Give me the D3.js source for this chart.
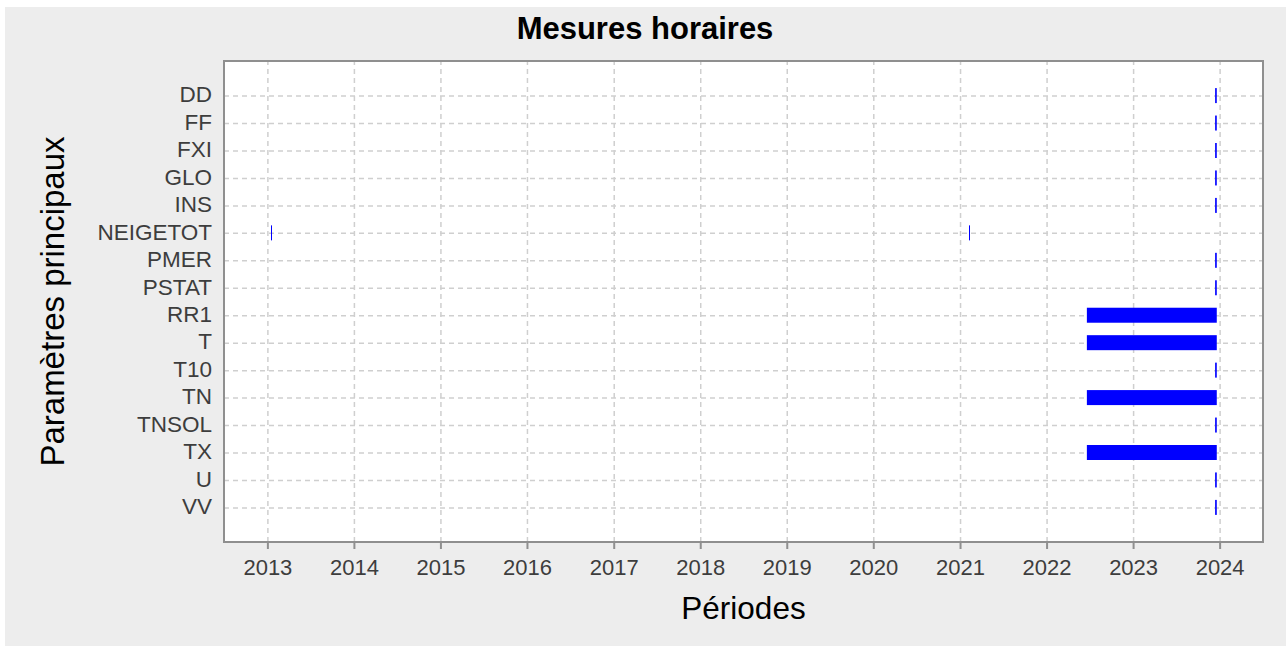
<!DOCTYPE html>
<html>
<head>
<meta charset="utf-8">
<script src="https://cdn.jsdelivr.net/npm/d3@7"></script>
<style>
  body { margin: 0; background: #fff; }
  text { font-family: "Liberation Sans", Arial, sans-serif; }
</style>
</head>
<body>
<script>
// parameters shown on the y axis, top to bottom
var params = ["DD", "FF", "FXI", "GLO", "INS", "NEIGETOT", "PMER", "PSTAT",
              "RR1", "T", "T10", "TN", "TNSOL", "TX", "U", "VV"];

// measurement periods (one entry per segment)
var periodParam = ["DD", "FF", "FXI", "GLO", "INS", "NEIGETOT", "NEIGETOT", "PMER", "PSTAT",
                   "RR1", "T", "T10", "TN", "TNSOL", "TX", "U", "VV"];
var periodStart = ["2023-12-13", "2023-12-13", "2023-12-13", "2023-12-13", "2023-12-13",
                   "2013-01-15", "2021-02-08", "2023-12-13", "2023-12-13",
                   "2022-06-20", "2022-06-20", "2023-12-13", "2022-06-20", "2023-12-13",
                   "2022-06-20", "2023-12-13", "2023-12-13"];
var periodEnd   = ["2023-12-20", "2023-12-20", "2023-12-20", "2023-12-20", "2023-12-20",
                   "2013-01-16", "2021-02-09", "2023-12-20", "2023-12-20",
                   "2023-12-20", "2023-12-20", "2023-12-20", "2023-12-20", "2023-12-20",
                   "2023-12-20", "2023-12-20", "2023-12-20"];

var yearTicks = [2013, 2014, 2015, 2016, 2017, 2018, 2019, 2020, 2021, 2022, 2023, 2024];

window.onload = function () {
  var w = 1286, h = 646;
  var left = 224, top = 61, right = 1263, bottom = 542;
  var parse = d3.timeParse("%Y-%m-%d");

  var svg = d3.select("body").append("svg")
    .attr("width", w)
    .attr("height", h);

  // grey figure background
  svg.append("rect")
    .attr("x", 5).attr("y", 7)
    .attr("width", w - 5).attr("height", h - 7)
    .attr("fill", "#ededed");

  // white plotting area
  svg.append("rect")
    .attr("x", left).attr("y", top)
    .attr("width", right - left).attr("height", bottom - top)
    .attr("fill", "#fff");

  var x = d3.scaleTime()
    .domain([new Date(2012, 6, 2), new Date(2024, 6, 2)])
    .range([left, right]);

  var y = d3.scalePoint()
    .domain(params)
    .range([top, bottom])
    .padding(1.26);

  var tickDates = yearTicks.map(function (d) { return new Date(d, 0, 1); });

  // vertical grid
  var xGrid = svg.append("g")
    .attr("transform", "translate(0," + bottom + ")")
    .call(d3.axisBottom(x).tickValues(tickDates).tickSize(-(bottom - top)).tickFormat(""));
  xGrid.select(".domain").remove();
  xGrid.selectAll("line")
    .attr("stroke", "#cfcfcf")
    .attr("stroke-width", 1.5)
    .attr("stroke-dasharray", "5,4");

  // horizontal grid
  var yGrid = svg.append("g")
    .attr("transform", "translate(" + left + ",0)")
    .call(d3.axisLeft(y).tickSize(-(right - left)).tickFormat(""));
  yGrid.select(".domain").remove();
  yGrid.selectAll("line")
    .attr("stroke", "#cfcfcf")
    .attr("stroke-width", 1.5)
    .attr("stroke-dasharray", "5,4");

  // periods
  var periods = periodParam.map(function (p, i) {
    return { param: p, start: parse(periodStart[i]), end: parse(periodEnd[i]) };
  });

  svg.append("g").selectAll("rect")
    .data(periods)
    .join("rect")
    .attr("x", function (d) {
      var w0 = x(d.end) - x(d.start);
      return w0 < 1 ? Math.round(x(d.start)) : x(d.start);
    })
    .attr("width", function (d) { return Math.max(x(d.end) - x(d.start), 1); })
    .attr("y", function (d) { return y(d.param) - 7.5; })
    .attr("height", 15)
    .attr("fill", "#0000ff");

  // frame
  svg.append("rect")
    .attr("x", left).attr("y", top)
    .attr("width", right - left).attr("height", bottom - top)
    .attr("fill", "none")
    .attr("stroke", "#8f8f8f")
    .attr("stroke-width", 2);

  // x axis ticks + labels
  var xAxis = svg.append("g")
    .attr("transform", "translate(0," + bottom + ")")
    .call(d3.axisBottom(x).tickValues(tickDates).tickSize(7).tickPadding(10)
      .tickFormat(d3.timeFormat("%Y")));
  xAxis.select(".domain").remove();
  xAxis.selectAll("line").attr("stroke", "#8f8f8f").attr("stroke-width", 2);
  xAxis.selectAll("text")
    .attr("fill", "#3d3d3d")
    .style("font-size", "22px")
    .style("font-family", "'Liberation Sans', Arial, sans-serif");

  // y axis labels
  var yAxis = svg.append("g")
    .attr("transform", "translate(" + left + ",0)")
    .call(d3.axisLeft(y).tickSize(0).tickPadding(12));
  yAxis.select(".domain").remove();
  yAxis.selectAll("text")
    .attr("fill", "#3d3d3d")
    .attr("dy", "0.28em")
    .style("font-size", "22.5px")
    .style("font-family", "'Liberation Sans', Arial, sans-serif");

  // title
  svg.append("text")
    .attr("x", 645).attr("y", 39)
    .attr("text-anchor", "middle")
    .style("font-size", "31px")
    .style("font-weight", "bold")
    .attr("fill", "#000")
    .text("Mesures horaires");

  // axis titles
  svg.append("text")
    .attr("x", (left + right) / 2).attr("y", 619)
    .attr("text-anchor", "middle")
    .style("font-size", "31.5px")
    .attr("fill", "#000")
    .text("Périodes");

  svg.append("text")
    .attr("transform", "translate(64," + (top + bottom) / 2 + ") rotate(-90)")
    .attr("text-anchor", "middle")
    .style("font-size", "33px")
    .attr("fill", "#000")
    .text("Paramètres principaux");
};
</script>
</body>
</html>
